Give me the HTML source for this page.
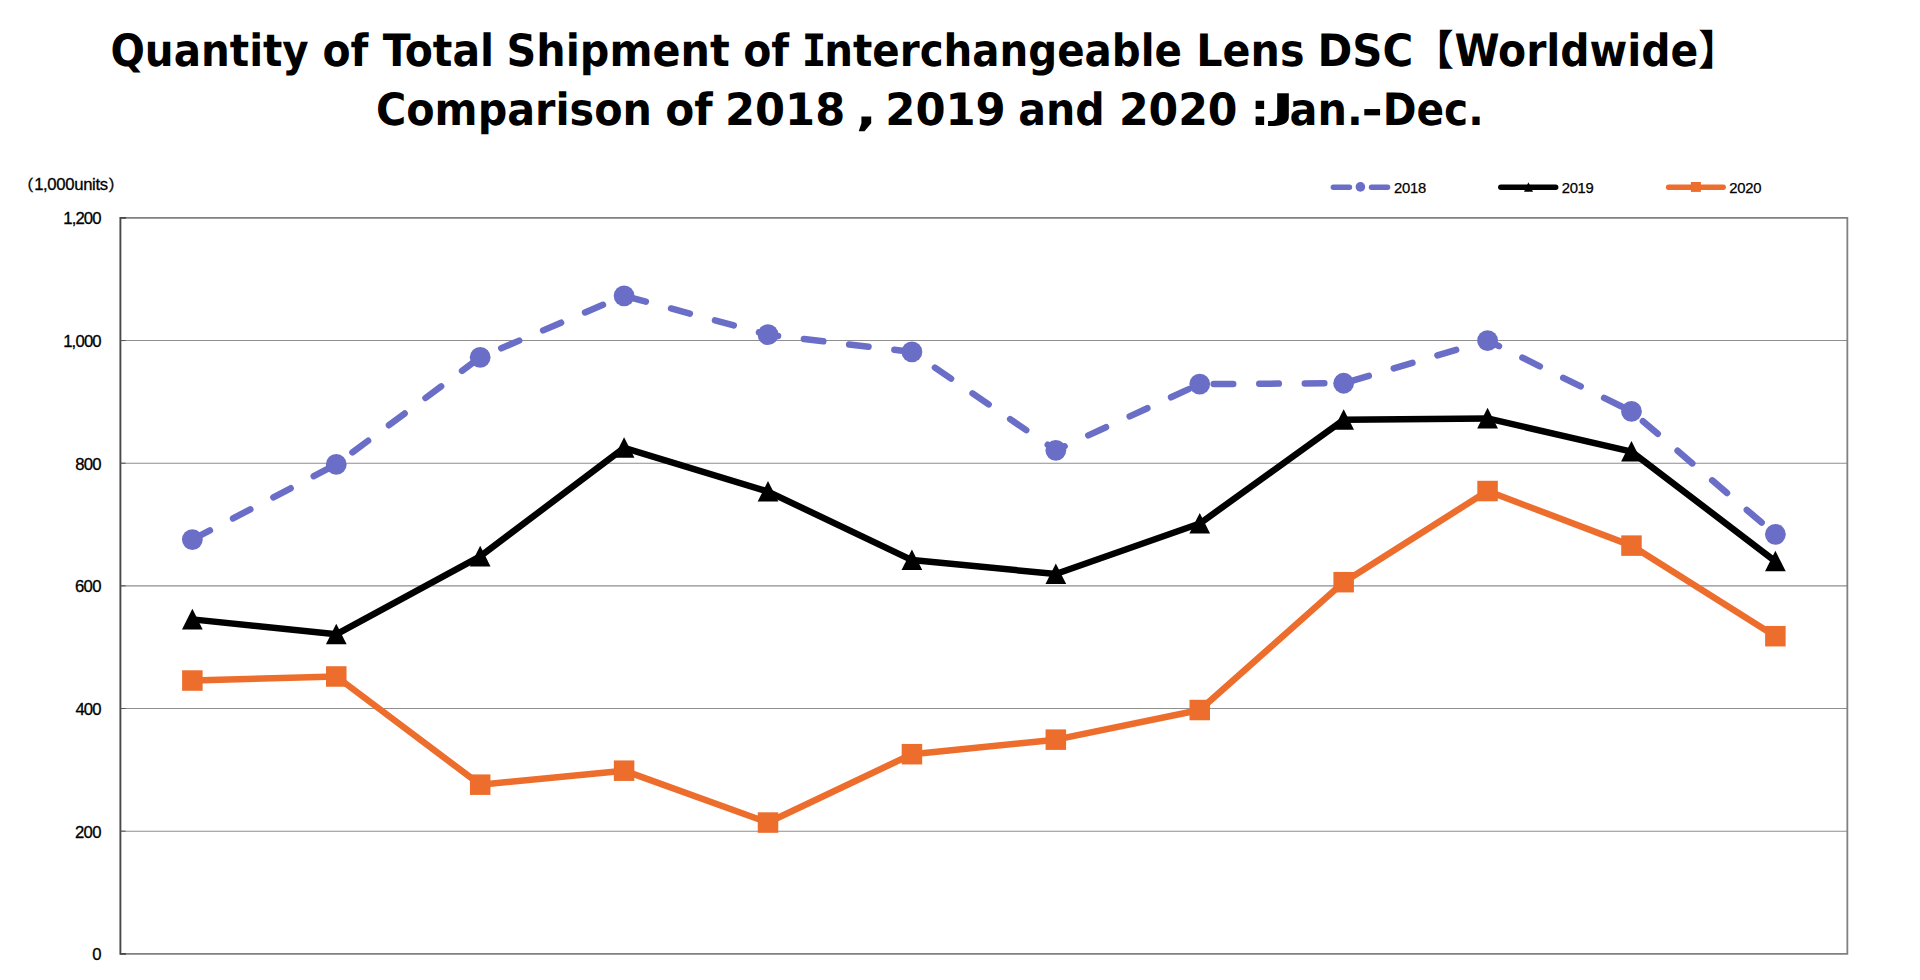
<!DOCTYPE html>
<html lang="en">
<head>
<meta charset="utf-8">
<title>Quantity of Total Shipment of Interchangeable Lens DSC</title>
<style>
html,body{margin:0;padding:0;background:#fff;}
body{width:1920px;height:980px;overflow:hidden;}
svg{display:block;}
.t{font-family:"DejaVu Sans Condensed","DejaVu Sans","Liberation Sans",sans-serif;font-stretch:condensed;font-weight:bold;font-size:44.5px;fill:#000;text-rendering:geometricPrecision;}
.tm{font-family:"DejaVu Sans Mono","Liberation Mono",monospace;font-stretch:normal;}
.tb{font-family:"Noto Sans CJK JP","IPAGothic",sans-serif;font-weight:bold;font-size:41.5px;fill:#000;}
.ax{font-family:"Liberation Sans","IPAGothic","Noto Sans CJK JP",sans-serif;font-size:16.7px;fill:#000;stroke:#000;stroke-width:0.3px;}
.pr{font-family:"IPAGothic","Noto Sans CJK JP",sans-serif;font-size:15.9px;fill:#000;stroke:#000;stroke-width:0.4px;}
.lg{font-family:"Liberation Sans","IPAGothic","Noto Sans CJK JP",sans-serif;font-size:14.8px;fill:#000;stroke:#000;stroke-width:0.25px;}
</style>
</head>
<body>
<svg width="1920" height="980" viewBox="0 0 1920 980">
<rect x="0" y="0" width="1920" height="980" fill="#ffffff"/>

<text class="t"><tspan x="110.48" y="66.00" textLength="198.25" lengthAdjust="spacingAndGlyphs">Quantity</tspan> <tspan x="322.50" y="66.00" textLength="45.88" lengthAdjust="spacingAndGlyphs">of</tspan> <tspan x="382.81" y="66.00" textLength="111.24" lengthAdjust="spacingAndGlyphs">Total</tspan> <tspan x="506.54" y="66.00" textLength="223.15" lengthAdjust="spacingAndGlyphs">Shipment</tspan> <tspan x="743.25" y="66.00" textLength="45.88" lengthAdjust="spacingAndGlyphs">of</tspan> <tspan x="801.76" y="66.00" textLength="24.69" lengthAdjust="spacingAndGlyphs" class="tm">I</tspan><tspan x="824.30" y="66.00" textLength="357.65" lengthAdjust="spacingAndGlyphs">nterchangeable</tspan> <tspan x="1196.22" y="66.00" textLength="108.23" lengthAdjust="spacingAndGlyphs">Lens</tspan> <tspan x="1317.41" y="66.00" textLength="95.76" lengthAdjust="spacingAndGlyphs">DSC</tspan><tspan class="tb" x="1412.4" y="65.2">【</tspan><tspan x="1454.59" y="66.00" textLength="243.77" lengthAdjust="spacingAndGlyphs">Worldwide</tspan><tspan class="tb" x="1698.1" y="65.2">】</tspan></text>
<text class="t"><tspan x="375.94" y="125.00" textLength="276.04" lengthAdjust="spacingAndGlyphs">Comparison</tspan> <tspan x="665.19" y="125.00" textLength="47.42" lengthAdjust="spacingAndGlyphs">of</tspan> <tspan x="725.08" y="125.00" textLength="120.09" lengthAdjust="spacingAndGlyphs">2018</tspan> <tspan x="855.79" y="125.00" textLength="21.14" lengthAdjust="spacingAndGlyphs">,</tspan> <tspan x="885.32" y="125.00" textLength="120.43" lengthAdjust="spacingAndGlyphs">2019</tspan> <tspan x="1018.24" y="125.00" textLength="86.45" lengthAdjust="spacingAndGlyphs">and</tspan> <tspan x="1118.92" y="125.00" textLength="118.61" lengthAdjust="spacingAndGlyphs">2020</tspan> <tspan x="1250.21" y="125.00" textLength="19.28" lengthAdjust="spacingAndGlyphs">:</tspan><tspan x="1271.46" y="118.79" textLength="22.98" lengthAdjust="spacingAndGlyphs" style="font-size:35.51px">J</tspan><tspan x="1289.62" y="125.00" textLength="73.20" lengthAdjust="spacingAndGlyphs">an.</tspan><tspan x="1361.60" y="125.00" textLength="21.39" lengthAdjust="spacingAndGlyphs">-</tspan><tspan x="1382.67" y="125.00" textLength="100.99" lengthAdjust="spacingAndGlyphs">Dec.</tspan></text>
<g stroke="#8e8e8e" stroke-width="1.05" fill="none">
<line x1="120.4" y1="831.15" x2="1847.35" y2="831.15"/>
<line x1="120.4" y1="708.50" x2="1847.35" y2="708.50"/>
<line x1="120.4" y1="585.85" x2="1847.35" y2="585.85"/>
<line x1="120.4" y1="463.20" x2="1847.35" y2="463.20"/>
<line x1="120.4" y1="340.55" x2="1847.35" y2="340.55"/>
</g>
<path d="M120.4 217.9 H1847.35 V953.8 H120.4" stroke="#808080" stroke-width="1.8" fill="none"/>
<path d="M120.4 217.0 V954.6999999999999" stroke="#484848" stroke-width="1.9" fill="none"/>
<path d="M120.4 831.15 h5.2 M120.4 708.50 h5.2 M120.4 585.85 h5.2 M120.4 463.20 h5.2 M120.4 340.55 h5.2" stroke="#555555" stroke-width="1.0" fill="none"/>
<path d="M120.4 217.9 h5.6 M120.4 953.8 h5.6" stroke="#484848" stroke-width="1.8" fill="none"/>
<g class="ax">
<text x="92.25" y="960.20" textLength="9.29" lengthAdjust="spacing">0</text>
<text x="75.06" y="837.55" textLength="26.39" lengthAdjust="spacing">200</text>
<text x="75.52" y="714.90" textLength="25.94" lengthAdjust="spacing">400</text>
<text x="75.05" y="592.25" textLength="26.40" lengthAdjust="spacing">600</text>
<text x="75.17" y="469.60" textLength="26.28" lengthAdjust="spacing">800</text>
<text x="63.13" y="346.95" textLength="38.52" lengthAdjust="spacing">1,000</text>
<text x="63.33" y="224.30" textLength="38.12" lengthAdjust="spacing">1,200</text>
</g>
<text class="ax"><tspan x="18.32" y="190.60" textLength="15.90" lengthAdjust="spacing" class="pr">（</tspan><tspan x="34.13" y="189.70" textLength="73.98" lengthAdjust="spacing">1,000units</tspan><tspan x="107.70" y="190.60" textLength="15.90" lengthAdjust="spacing" class="pr">）</tspan></text>
<polyline points="192.36,539.61 336.27,464.43 480.18,357.29 624.09,295.78 768.01,334.72 911.92,351.90 1055.83,450.32 1199.74,384.09 1343.66,383.23 1487.57,340.55 1631.48,411.38 1775.39,534.34" fill="none" stroke="#6a6ec7" stroke-width="6.5" stroke-linecap="round" stroke-linejoin="round" stroke-dasharray="19.5 26.05" stroke-dashoffset="-0.3"/>
<circle cx="192.36" cy="539.61" r="10.4" fill="#6a6ec7"/>
<circle cx="336.27" cy="464.43" r="10.4" fill="#6a6ec7"/>
<circle cx="480.18" cy="357.29" r="10.4" fill="#6a6ec7"/>
<circle cx="624.09" cy="295.78" r="10.4" fill="#6a6ec7"/>
<circle cx="768.01" cy="334.72" r="10.4" fill="#6a6ec7"/>
<circle cx="911.92" cy="351.90" r="10.4" fill="#6a6ec7"/>
<circle cx="1055.83" cy="450.32" r="10.4" fill="#6a6ec7"/>
<circle cx="1199.74" cy="384.09" r="10.4" fill="#6a6ec7"/>
<circle cx="1343.66" cy="383.23" r="10.4" fill="#6a6ec7"/>
<circle cx="1487.57" cy="340.55" r="10.4" fill="#6a6ec7"/>
<circle cx="1631.48" cy="411.38" r="10.4" fill="#6a6ec7"/>
<circle cx="1775.39" cy="534.34" r="10.4" fill="#6a6ec7"/>
<polyline points="192.36,619.39 336.27,634.30 480.18,556.41 624.09,447.87 768.01,491.59 911.92,560.09 1055.83,574.01 1199.74,523.54 1343.66,419.84 1487.57,418.43 1631.48,451.55 1775.39,561.32" fill="none" stroke="#000000" stroke-width="6.5" stroke-linecap="round" stroke-linejoin="round"/>
<path d="M192.36 608.79 L202.71 629.39 H182.01 Z" fill="#000000"/>
<path d="M336.27 623.70 L346.62 644.30 H325.92 Z" fill="#000000"/>
<path d="M480.18 545.81 L490.53 566.41 H469.83 Z" fill="#000000"/>
<path d="M624.09 437.27 L634.44 457.87 H613.74 Z" fill="#000000"/>
<path d="M768.01 480.99 L778.36 501.59 H757.66 Z" fill="#000000"/>
<path d="M911.92 549.49 L922.27 570.09 H901.57 Z" fill="#000000"/>
<path d="M1055.83 563.41 L1066.18 584.01 H1045.48 Z" fill="#000000"/>
<path d="M1199.74 512.94 L1210.09 533.54 H1189.39 Z" fill="#000000"/>
<path d="M1343.66 409.24 L1354.01 429.84 H1333.31 Z" fill="#000000"/>
<path d="M1487.57 407.83 L1497.92 428.43 H1477.22 Z" fill="#000000"/>
<path d="M1631.48 440.95 L1641.83 461.55 H1621.13 Z" fill="#000000"/>
<path d="M1775.39 550.72 L1785.74 571.32 H1765.04 Z" fill="#000000"/>
<polyline points="192.36,680.54 336.27,676.49 480.18,784.67 624.09,770.68 768.01,822.56 911.92,754.19 1055.83,739.65 1199.74,710.03 1343.66,582.17 1487.57,491.04 1631.48,545.62 1775.39,636.20" fill="none" stroke="#ed6d2c" stroke-width="6.5" stroke-linecap="round" stroke-linejoin="round"/>
<rect x="182.11" y="670.29" width="20.5" height="20.5" fill="#ed6d2c"/>
<rect x="326.02" y="666.24" width="20.5" height="20.5" fill="#ed6d2c"/>
<rect x="469.93" y="774.42" width="20.5" height="20.5" fill="#ed6d2c"/>
<rect x="613.84" y="760.43" width="20.5" height="20.5" fill="#ed6d2c"/>
<rect x="757.76" y="812.31" width="20.5" height="20.5" fill="#ed6d2c"/>
<rect x="901.67" y="743.94" width="20.5" height="20.5" fill="#ed6d2c"/>
<rect x="1045.58" y="729.40" width="20.5" height="20.5" fill="#ed6d2c"/>
<rect x="1189.49" y="699.78" width="20.5" height="20.5" fill="#ed6d2c"/>
<rect x="1333.41" y="571.92" width="20.5" height="20.5" fill="#ed6d2c"/>
<rect x="1477.32" y="480.79" width="20.5" height="20.5" fill="#ed6d2c"/>
<rect x="1621.23" y="535.37" width="20.5" height="20.5" fill="#ed6d2c"/>
<rect x="1765.14" y="625.95" width="20.5" height="20.5" fill="#ed6d2c"/>
<g fill="none" stroke-width="5.4" stroke-linecap="round">
<path d="M1333.3 187.2 H1349.5 M1371.45 187.2 H1387.6" stroke="#6a6ec7"/>
<path d="M1500.8 187.2 H1555.7" stroke="#000000"/>
<path d="M1668.6000000000001 187.2 H1723.2" stroke="#ed6d2c"/>
</g>
<circle cx="1360.4" cy="186.9" r="4.8" fill="#6a6ec7"/>
<path d="M1528.4 182.2 L1533 191.75 H1524 Z" fill="#000000"/>
<rect x="1690.9" y="182" width="10" height="9.9" fill="#ed6d2c"/>
<g class="lg">
<text x="1393.96" y="192.80" textLength="32.29" lengthAdjust="spacing">2018</text>
<text x="1561.76" y="192.80" textLength="31.95" lengthAdjust="spacing">2019</text>
<text x="1729.26" y="192.80" textLength="32.22" lengthAdjust="spacing">2020</text>
</g>
</svg>
</body>
</html>
